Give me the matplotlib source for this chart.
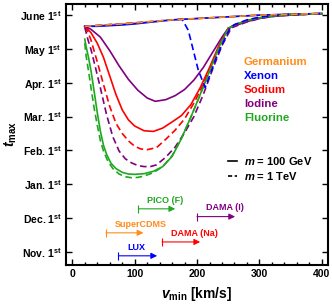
import matplotlib
matplotlib.use("Agg")
import matplotlib.pyplot as plt
from matplotlib.ticker import MultipleLocator

plt.rcParams["font.family"] = ["Liberation Sans", "DejaVu Sans"]
plt.rcParams["font.weight"] = "bold"
plt.rcParams["axes.labelweight"] = "bold"
plt.rcParams["mathtext.fontset"] = "custom"
plt.rcParams["mathtext.rm"] = "Liberation Sans:bold"
plt.rcParams["mathtext.bf"] = "Liberation Sans:bold"
plt.rcParams["mathtext.it"] = "Liberation Sans:bold:italic"

# t_max in months: 0 = Jan 1st, 5 = June 1st, -2 = Nov 1st
month_ticks = [-2, -1, 0, 1, 2, 3, 4, 5]
month_labels = ["Nov.", "Dec.", "Jan.", "Feb.", "Mar.", "Apr.", "May", "June"]

# Germanium / Xenon (top curves)
top_v = [20, 40, 60, 80, 100, 120, 140, 160, 180, 200, 220, 240, 260, 280, 300, 320, 340, 360, 380, 400]
ge_100 = [4.67, 4.69, 4.72, 4.74, 4.77, 4.80, 4.83, 4.86, 4.88, 4.90, 4.92, 4.94, 4.96, 4.98, 5.00, 5.01, 5.02, 5.03, 5.04, 5.05]
ge_1t = [4.67, 4.69, 4.72, 4.74, 4.77, 4.80, 4.83, 4.86, 4.88, 4.90, 4.92, 4.94, 4.96, 4.98, 5.00, 5.01, 5.02, 5.03, 5.04, 5.05]
xe_100 = [4.67, 4.67, 4.69, 4.71, 4.74, 4.78, 4.82, 4.86, 4.88, 4.90, 4.92, 4.94, 4.96, 4.98, 5.00, 5.01, 5.02, 5.03, 5.04, 5.05]

xe_1t_v = [20, 60, 100, 140, 176, 186, 194, 202, 213, 220, 230, 240, 253, 260, 280, 300, 320, 340, 360, 380, 400]
xe_1t = [4.67, 4.72, 4.77, 4.83, 4.88, 4.55, 3.96, 3.37, 2.86, 3.20, 3.70, 4.12, 4.62, 4.72, 4.86, 4.94, 4.99, 5.02, 5.03, 5.04, 5.05]

# Sodium
na_100_v = [20, 30, 40, 50, 60, 70, 80, 90, 100, 115, 130, 145, 160, 175, 190, 205, 220, 235, 250,
            260, 280, 300, 320, 340, 360, 380, 400]
na_100 = [4.67, 4.48, 4.17, 3.75, 3.20, 2.65, 2.20, 1.90, 1.72, 1.58, 1.56, 1.66, 1.84, 2.03, 2.35, 2.85, 3.45, 4.10, 4.61,
          4.71, 4.84, 4.92, 4.97, 5.00, 5.02, 5.03, 5.04]
na_1t_v = [20, 25, 30, 40, 50, 60, 70, 80, 90, 100, 110, 120, 135, 150, 165, 180, 195, 210, 225, 240, 250,
           260, 280, 300, 320, 340, 360, 380, 400]
na_1t = [4.67, 4.50, 4.26, 3.62, 2.95, 2.30, 1.80, 1.50, 1.28, 1.12, 1.04, 1.02, 1.08, 1.33, 1.60, 1.93, 2.40, 2.95, 3.60, 4.20, 4.61,
         4.71, 4.84, 4.92, 4.97, 5.00, 5.02, 5.03, 5.04]

# Iodine
io_100_v = [20, 30, 45, 60, 75, 90, 105, 120, 133, 150, 165, 180, 195, 210, 225, 240, 250,
            260, 280, 300, 320, 340, 360, 380, 400]
io_100 = [4.67, 4.58, 4.35, 3.95, 3.50, 3.10, 2.78, 2.55, 2.45, 2.50, 2.62, 2.80, 3.08, 3.45, 3.90, 4.35, 4.61,
          4.68, 4.81, 4.90, 4.96, 4.99, 5.01, 5.03, 5.04]
io_1t_v = [20, 25, 30, 37, 45, 55, 65, 75, 85, 95, 105, 115, 125, 135, 150, 165, 180, 195, 210, 225, 240, 255,
           260, 280, 300, 320, 340, 360, 380, 400]
io_1t = [4.64, 4.28, 3.98, 3.46, 2.85, 2.05, 1.40, 0.98, 0.75, 0.63, 0.55, 0.52, 0.52, 0.57, 0.80, 1.10, 1.52, 2.00, 2.65, 3.40, 4.10, 4.62,
         4.66, 4.80, 4.90, 4.96, 4.99, 5.01, 5.03, 5.04]

# Fluorine
f_100_v = [20, 22, 26, 30, 35, 40, 45, 50, 55, 62, 70, 80, 90, 100, 115, 130, 145, 160, 175, 190, 205, 220, 235, 250,
           260, 280, 300, 320, 340, 360, 380, 400]
f_100 = [4.29, 4.08, 3.75, 3.35, 2.75, 2.12, 1.57, 1.15, 0.88, 0.62, 0.46, 0.35, 0.30, 0.29, 0.31, 0.38, 0.52, 0.82, 1.35, 1.98, 2.65, 3.35, 4.05, 4.61,
         4.71, 4.84, 4.92, 4.97, 5.00, 5.02, 5.03, 5.04]
f_1t_v = [20, 22, 26, 30, 35, 40, 45, 50, 57, 65, 75, 85, 95, 105, 115, 130, 145, 160, 175, 190, 205, 220, 235, 250,
          260, 280, 300, 320, 340, 360, 380, 400]
f_1t = [4.17, 3.81, 3.35, 2.85, 2.25, 1.75, 1.29, 0.98, 0.68, 0.46, 0.30, 0.22, 0.19, 0.20, 0.24, 0.34, 0.52, 0.84, 1.36, 1.98, 2.64, 3.33, 4.03, 4.60,
        4.71, 4.84, 4.92, 4.97, 5.00, 5.02, 5.03, 5.04]

# experiment thresholds
exp_names = ["PICO (F)", "SuperCDMS", "LUX", "DAMA (Na)", "DAMA (I)"]
exp_vstart = [106, 54, 74, 144, 200]
exp_vend = [165, 114, 136, 205, 261]
exp_t = [-0.73, -1.44, -2.12, -1.71, -0.96]

c_ge = "#ff8c1a"
c_xe = "#0000ff"
c_na = "#ff0000"
c_io = "#800080"
c_f = "#1fa81f"
exp_colors = [c_f, c_ge, c_xe, c_na, c_io]

fig = plt.figure(figsize=(3.32, 3.07), dpi=100)
ax = fig.add_axes([0.199, 0.137, 0.789, 0.850])

lw = 1.2
ds = (4, 2.2)
ax.plot(top_v, ge_100, color=c_ge, lw=lw)
ax.plot(top_v, xe_100, color=c_xe, lw=lw)
ax.plot(na_100_v, na_100, color=c_na, lw=lw)
ax.plot(io_100_v, io_100, color=c_io, lw=lw)
ax.plot(f_100_v, f_100, color=c_f, lw=lw)
ax.plot(na_1t_v, na_1t, color=c_na, lw=lw, ls="--", dashes=ds)
ax.plot(io_1t_v, io_1t, color=c_io, lw=lw, ls="--", dashes=ds)
ax.plot(f_1t_v, f_1t, color=c_f, lw=lw, ls="--", dashes=ds)
ax.plot(xe_1t_v, xe_1t, color=c_xe, lw=lw, ls="--", dashes=ds)
ax.plot(top_v, ge_1t, color=c_ge, lw=lw, ls="--", dashes=ds)

for name, v0, v1, t, c in zip(exp_names, exp_vstart, exp_vend, exp_t, exp_colors):
    ax.annotate("", xy=(v1, t), xytext=(v0, t),
                arrowprops=dict(arrowstyle="-|>", color=c, lw=0.8, mutation_scale=9,
                                shrinkA=0, shrinkB=0))
    ax.plot([v0], [t], marker="|", ms=6, mew=0.8, color=c)
    ax.text(v0 + 14, t + 0.26, name, color=c, fontsize=6.5, fontweight="bold",
            ha="left", va="center")

# element legend
names = ["Germanium", "Xenon", "Sodium", "Iodine", "Fluorine"]
cols = [c_ge, c_xe, c_na, c_io, c_f]
for i, (n, c) in enumerate(zip(names, cols)):
    fig.text(244 / 332, 1 - (62 + 14 * i) / 307, n, color=c, fontsize=8.2,
             fontweight="bold", ha="left", va="center")

# mass legend
ax.plot([0.617, 0.653], [0.397, 0.397], color="black", lw=1.2, transform=ax.transAxes)
ax.plot([0.617, 0.653], [0.340, 0.340], color="black", lw=1.2, ls="--", dashes=(2.5, 1.5),
        transform=ax.transAxes)
fig.text(244 / 332, 1 - 161 / 307, "$m$ = 100 GeV", fontsize=8, ha="left", va="center")
fig.text(244 / 332, 1 - 176 / 307, "$m$ = 1 TeV", fontsize=8, ha="left", va="center")

ax.set_xlim(-10, 410)
ax.set_ylim(-2.39, 5.33)
ax.set_yticks(month_ticks)
ax.set_yticklabels([m + r" 1$^{\rm st}$" for m in month_labels])
ax.xaxis.set_major_locator(MultipleLocator(100))
ax.xaxis.set_minor_locator(MultipleLocator(20))
ax.tick_params(which="both", direction="in", top=True, right=True, labelsize=7.5, width=1)
ax.tick_params(which="major", length=4, pad=3)
ax.tick_params(which="minor", length=2)
for s in ax.spines.values():
    s.set_linewidth(1.5)

ax.set_xlabel(r"$v_{\rm min}$ [km/s]", fontsize=10, labelpad=4)
ax.set_ylabel(r"$t_{\rm max}$", fontsize=10, labelpad=1)

fig.savefig("out.png", dpi=100)
